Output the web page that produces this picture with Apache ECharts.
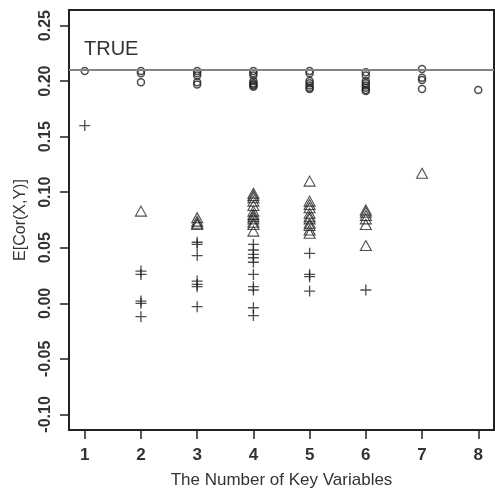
<!DOCTYPE html>
<html>
<head>
<meta charset="utf-8">
<script src="https://cdn.jsdelivr.net/npm/echarts@6/dist/echarts.min.js"></script>
<style>
  html, body { margin: 0; padding: 0; background: #fff; }
  #chart { width: 495px; height: 488px; }
</style>
</head>
<body>
<div id="chart"></div>
<script>
// values, [key variables, E[Cor(X,Y)]]
const circlePoints = [
  [1, 0.209],
  [2, 0.209], [2, 0.207], [2, 0.199],
  [3, 0.209], [3, 0.207], [3, 0.205], [3, 0.199], [3, 0.197],
  [4, 0.209], [4, 0.207], [4, 0.205], [4, 0.200], [4, 0.198], [4, 0.197], [4, 0.196], [4, 0.195],
  [5, 0.209], [5, 0.207], [5, 0.200], [5, 0.198], [5, 0.196], [5, 0.194], [5, 0.193],
  [6, 0.208], [6, 0.205], [6, 0.200], [6, 0.198], [6, 0.196], [6, 0.194], [6, 0.192], [6, 0.191],
  [7, 0.211], [7, 0.203], [7, 0.201], [7, 0.193],
  [8, 0.192]
];
const trianglePoints = [
  [2, 0.083],
  [3, 0.077], [3, 0.074], [3, 0.072], [3, 0.071],
  [4, 0.099], [4, 0.097], [4, 0.095], [4, 0.092], [4, 0.088], [4, 0.083],
  [4, 0.080], [4, 0.078], [4, 0.076], [4, 0.073], [4, 0.071], [4, 0.065],
  [5, 0.110], [5, 0.092], [5, 0.089], [5, 0.086], [5, 0.081], [5, 0.078],
  [5, 0.076], [5, 0.072], [5, 0.070], [5, 0.066], [5, 0.063],
  [6, 0.084], [6, 0.082], [6, 0.079], [6, 0.076], [6, 0.071], [6, 0.052],
  [7, 0.117]
];
const crossPoints = [
  [1, 0.160],
  [2, 0.029], [2, 0.026], [2, 0.002], [2, 0.000], [2, -0.012],
  [3, 0.055], [3, 0.053], [3, 0.043], [3, 0.020], [3, 0.017], [3, 0.015], [3, -0.003],
  [4, 0.053], [4, 0.048], [4, 0.044], [4, 0.041], [4, 0.037], [4, 0.026],
  [4, 0.015], [4, 0.012], [4, -0.004], [4, -0.011],
  [5, 0.045], [5, 0.026], [5, 0.024], [5, 0.011],
  [6, 0.012]
];
const trueValue = 0.2125;
const xTicks = [1, 2, 3, 4, 5, 6, 7, 8];
const yTicks = [-0.10, -0.05, 0.00, 0.05, 0.10, 0.15, 0.20, 0.25];

const chart = echarts.init(document.getElementById("chart"));
const ink = "#222";
const font = "'Liberation Sans', Arial, sans-serif";
const plusPath = "path://M4.4,0H5.6V4.4H10V5.6H5.6V10H4.4V5.6H0V4.4H4.4Z";

chart.setOption({
  animation: false,
  backgroundColor: "#fff",
  grid: {
    left: 69, right: 1, top: 10, bottom: 58,
    outerBoundsMode: "none", containLabel: false,
    show: true, borderColor: ink, borderWidth: 2, backgroundColor: "transparent"
  },
  xAxis: {
    type: "value",
    min: 0.72, max: 8.28,
    name: "The Number of Key Variables",
    nameLocation: "middle",
    nameGap: 42,
    nameTextStyle: { color: "#333", fontSize: 17, fontFamily: font },
    axisLine: { show: false, onZero: false },
    splitLine: { show: false },
    axisTick: { show: true, length: 9, customValues: xTicks, lineStyle: { color: ink, width: 1.5 } },
    axisLabel: {
      customValues: xTicks, margin: 17,
      color: "#333", fontSize: 17, fontWeight: "bold", fontFamily: font
    }
  },
  yAxis: {
    type: "value",
    min: -0.114, max: 0.264,
    name: "E[Cor(X,Y)]",
    nameLocation: "middle",
    nameGap: 40,
    nameRotate: 90,
    nameTextStyle: { color: "#333", fontSize: 16, fontFamily: font },
    axisLine: { show: false, onZero: false },
    splitLine: { show: false },
    axisTick: { show: true, length: 9, customValues: yTicks, lineStyle: { color: ink, width: 1.5 } },
    axisLabel: {
      customValues: yTicks, margin: 15, rotate: 90,
      color: "#333", fontSize: 16, fontWeight: "bold", fontFamily: font,
      formatter: (v) => v.toFixed(2)
    }
  },
  graphic: [{
    type: "text", left: 84, top: 39,
    style: { text: "TRUE", fill: "#333", font: "20px " + font }
  }],
  series: [
    {
      type: "scatter",
      data: circlePoints,
      symbol: "circle",
      symbolSize: 7,
      itemStyle: { color: "rgba(0,0,0,0)", borderColor: ink, borderWidth: 1.5 },
      markLine: {
        silent: true, symbol: "none",
        label: { show: false },
        lineStyle: { color: "#858585", width: 1.8, type: "solid" },
        data: [{ yAxis: trueValue }]
      }
    },
    {
      type: "scatter",
      data: trianglePoints,
      symbol: "triangle",
      symbolSize: [11, 10],
      itemStyle: { color: "rgba(0,0,0,0)", borderColor: ink, borderWidth: 1.1 }
    },
    {
      type: "scatter",
      data: crossPoints,
      symbol: plusPath,
      symbolSize: 11,
      itemStyle: { color: ink }
    }
  ]
});
</script>
</body>
</html>
